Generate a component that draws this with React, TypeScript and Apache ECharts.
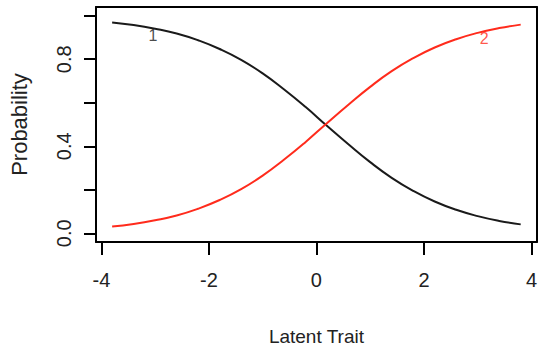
import React, { useEffect, useRef } from "react";
import * as echarts from "echarts";

const theta = [-3.8, -3.4, -3.0, -2.6, -2.2, -1.8, -1.4, -1.0, -0.6, -0.2, 0.2, 0.6, 1.0, 1.4, 1.8, 2.2, 2.6, 3.0, 3.4, 3.8];
const category1 = [0.969, 0.957, 0.94, 0.918, 0.887, 0.847, 0.797, 0.735, 0.661, 0.58, 0.493, 0.408, 0.327, 0.255, 0.195, 0.146, 0.108, 0.079, 0.057, 0.041];
const category2 = [0.031, 0.043, 0.06, 0.082, 0.113, 0.153, 0.203, 0.265, 0.339, 0.42, 0.507, 0.592, 0.673, 0.745, 0.805, 0.854, 0.892, 0.921, 0.943, 0.959];
const curveLabels = ["1", "2"];
const labelPoints = [[-3.04, 0.911], [3.12, 0.895]];
const xTicks = [-4, -2, 0, 2, 4];
const yTicks = [0, 0.2, 0.4, 0.6, 0.8, 1.0];
const yTickLabels = [0, 0.4, 0.8];

const SANS = "'Liberation Sans', Arial, sans-serif";
const BLACK = "#1a1a1a";
const RED = "#ff2b1c";
const FRAME = { show: true, onZero: false, lineStyle: { color: "#000", width: 2 } };

export default function App() {
  const ref = useRef<HTMLDivElement>(null);
  useEffect(() => {
    if (!ref.current) return;
    const chart = echarts.init(ref.current, null, { renderer: "svg" });
    chart.setOption({
      animation: false,
      backgroundColor: "#ffffff",
      grid: { left: 94, right: 1, top: 7, bottom: 111 },
      xAxis: [
        {
          type: "value",
          position: "bottom",
          min: -4.1,
          max: 4.1,
          name: "Latent Trait",
          nameLocation: "middle",
          nameGap: 85,
          nameTextStyle: { fontFamily: SANS, fontSize: 19, color: "#222" },
          axisLine: FRAME,
          splitLine: { show: false },
          axisTick: { show: true, length: 13, lineStyle: { color: "#000", width: 2 }, customValues: xTicks },
          axisLabel: {
            show: true,
            margin: 28,
            fontFamily: SANS,
            fontSize: 20,
            color: "#222",
            customValues: xTicks,
            formatter: (v: number) => String(v),
          },
        },
        {
          type: "value",
          position: "top",
          min: -4.1,
          max: 4.1,
          axisLine: FRAME,
          splitLine: { show: false },
          axisTick: { show: false },
          axisLabel: { show: false },
        },
      ],
      yAxis: [
        {
          type: "value",
          position: "left",
          min: -0.04,
          max: 1.04,
          name: "Probability",
          nameLocation: "middle",
          nameGap: 66,
          nameRotate: 90,
          nameTextStyle: { fontFamily: SANS, fontSize: 22, color: "#222" },
          axisLine: FRAME,
          splitLine: { show: false },
          axisTick: { show: true, length: 12, lineStyle: { color: "#000", width: 2 }, customValues: yTicks },
          axisLabel: {
            show: true,
            rotate: 90,
            margin: 22,
            fontFamily: SANS,
            fontSize: 20,
            color: "#222",
            customValues: yTickLabels,
            formatter: (v: number) => v.toFixed(1),
          },
        },
        {
          type: "value",
          position: "right",
          min: -0.04,
          max: 1.04,
          axisLine: FRAME,
          splitLine: { show: false },
          axisTick: { show: false },
          axisLabel: { show: false },
        },
      ],
      series: [
        {
          type: "line",
          data: theta.map((t, i) => [t, category1[i]]),
          smooth: true,
          showSymbol: false,
          symbol: "none",
          lineStyle: { color: BLACK, width: 2 },
          z: 3,
        },
        {
          type: "line",
          data: theta.map((t, i) => [t, category2[i]]),
          smooth: true,
          showSymbol: false,
          symbol: "none",
          lineStyle: { color: RED, width: 2 },
          z: 3,
        },
        {
          type: "scatter",
          symbolSize: 0,
          silent: true,
          data: labelPoints.map((p, i) => ({
            value: p,
            label: {
              show: true,
              position: "inside",
              formatter: curveLabels[i],
              fontFamily: SANS,
              fontSize: 16,
              color: i === 0 ? BLACK : RED,
            },
          })),
          z: 4,
        },
      ],
    });
    return () => chart.dispose();
  }, []);
  return (
    <div
      ref={ref}
      style={{ position: "fixed", left: 0, top: 0, width: 540, height: 353, background: "#fff" }}
    />
  );
}
